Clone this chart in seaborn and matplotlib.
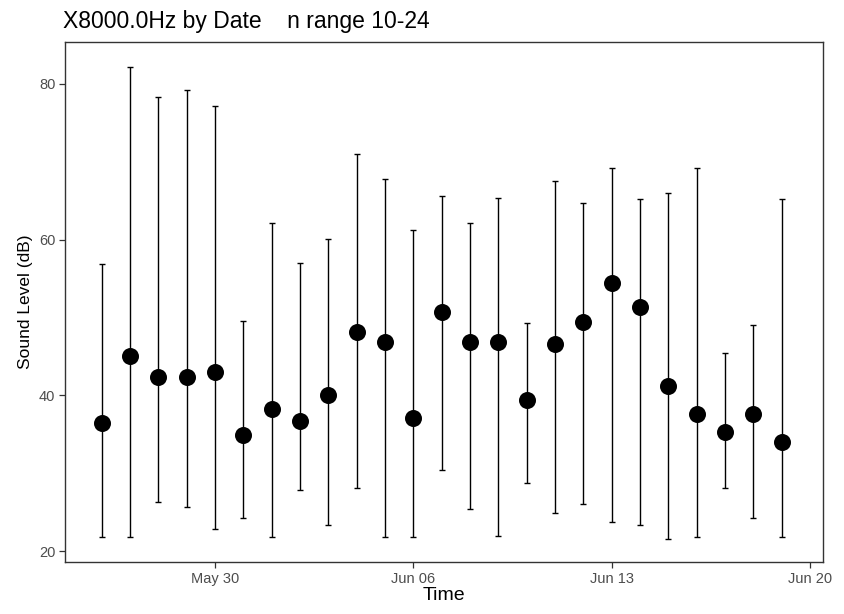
import matplotlib
matplotlib.use("Agg")
import matplotlib.pyplot as plt
import matplotlib.dates as mdates
import seaborn as sns
import pandas as pd
import numpy as np

dates = ["2021-05-26", "2021-05-27", "2021-05-28", "2021-05-29", "2021-05-30",
         "2021-05-31", "2021-06-01", "2021-06-02", "2021-06-03", "2021-06-04",
         "2021-06-05", "2021-06-06", "2021-06-07", "2021-06-08", "2021-06-09",
         "2021-06-10", "2021-06-11", "2021-06-12", "2021-06-13", "2021-06-14",
         "2021-06-15", "2021-06-16", "2021-06-17", "2021-06-18", "2021-06-19"]
mean_db = [36.5, 45.1, 42.3, 42.4, 43.0, 34.9, 38.2, 36.7, 40.1, 48.2,
           46.9, 37.1, 50.7, 46.8, 46.9, 39.4, 46.6, 49.4, 54.4, 51.4,
           41.2, 37.6, 35.3, 37.6, 34.0]
low_db = [21.8, 21.8, 26.3, 25.7, 22.9, 24.2, 21.8, 27.9, 23.4, 28.1,
          21.8, 21.8, 30.4, 25.4, 22.0, 28.8, 24.9, 26.1, 23.8, 23.4,
          21.6, 21.8, 28.1, 24.3, 21.8]
high_db = [56.9, 82.2, 78.3, 79.2, 77.2, 49.5, 62.2, 57.0, 60.1, 71.0,
           67.8, 61.3, 65.6, 62.2, 65.3, 49.3, 67.5, 64.7, 69.2, 65.2,
           66.0, 69.2, 45.4, 49.0, 65.2]
x_ticks = ["2021-05-30", "2021-06-06", "2021-06-13", "2021-06-20"]
y_ticks = [20, 40, 60, 80]

df = pd.DataFrame({"date": pd.to_datetime(dates), "mean": mean_db,
                   "low": low_db, "high": high_db})

sns.set_theme(style="white")
plt.rcParams["font.family"] = ["Liberation Sans", "DejaVu Sans"]

fig = plt.figure(figsize=(8.44, 6.14), dpi=100)
ax = fig.add_axes([0.077, 0.0847, 0.898, 0.847])

ax.errorbar(df["date"], df["mean"],
            yerr=[df["mean"] - df["low"], df["high"] - df["mean"]],
            fmt="none", ecolor="black", elinewidth=1.0, capsize=2.2,
            capthick=1.0, zorder=2)
sns.scatterplot(data=df, x="date", y="mean", ax=ax, color="black",
                s=150, edgecolor="black", linewidth=0, zorder=3, legend=False)

ax.set_xlim(pd.Timestamp("2021-05-26") - pd.Timedelta(hours=31),
            pd.Timestamp("2021-06-19") + pd.Timedelta(hours=35))
ax.set_ylim(18.6, 85.4)
ax.set_yticks(y_ticks)
ax.set_xticks(pd.to_datetime(x_ticks))
ax.xaxis.set_major_formatter(mdates.DateFormatter("%b %d"))

for s in ax.spines.values():
    s.set_visible(True)
    s.set_color("#333333")
    s.set_linewidth(1.0)

ax.tick_params(axis="both", which="major", direction="out", length=4,
               width=0.9, color="#333333", labelcolor="#4D4D4D",
               labelsize=10.5, pad=3, bottom=True, left=True)

ax.set_xlabel("Time", fontsize=14, color="black", labelpad=1)
ax.set_ylabel("Sound Level (dB)", fontsize=12.5, color="black", labelpad=4)
ax.set_title("X8000.0Hz by Date    n range 10-24", loc="left", fontsize=16.5,
             color="black", pad=10, x=-0.003)
ax.grid(False)

fig.savefig("out.png", dpi=100)
